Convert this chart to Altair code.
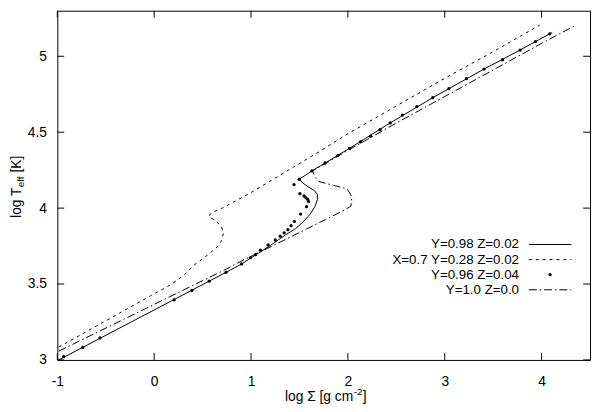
import altair as alt
import pandas as pd

# ---- data ----
x_ticks = [-1, 0, 1, 2, 3, 4]
y_ticks = [3, 3.5, 4, 4.5, 5]

legend_labels = ["Y=0.98 Z=0.02", "X=0.7 Y=0.28 Z=0.02", "Y=0.96 Z=0.04", "Y=1.0 Z=0.0"]

# Y=0.98 Z=0.02 (solid)
solid_x = [-0.985, 0.742, 0.903, 1.0, 1.19, 1.36, 1.46, 1.54, 1.61, 1.66, 1.685, 1.685,
           1.655, 1.59, 1.535, 1.498, 1.628, 1.765, 2.018, 2.437, 2.876, 3.406, 3.778, 4.084, 4.11]
solid_y = [3.0, 3.577, 3.632, 3.672, 3.75, 3.825, 3.865, 3.91, 3.96, 4.01, 4.055, 4.09,
           4.115, 4.14, 4.165, 4.19, 4.245, 4.297, 4.394, 4.561, 4.727, 4.916, 5.041, 5.148, 5.157]

# X=0.7 Y=0.28 Z=0.02 (dashed)
dashed_x = [-0.985, -0.237, -0.033, 0.171, 0.308, 0.41, 0.546, 0.648, 0.70, 0.716, 0.69, 0.62,
            0.563, 0.59, 0.72, 1.02, 1.36, 1.70, 2.0, 2.485, 3.0, 3.5, 3.98]
dashed_y = [3.085, 3.351, 3.424, 3.495, 3.559, 3.624, 3.688, 3.742, 3.79, 3.84, 3.885, 3.922,
            3.945, 3.968, 4.005, 4.11, 4.24, 4.37, 4.49, 4.667, 4.855, 5.03, 5.205]

# Y=0.96 Z=0.04 (dots)
dots_x = [-0.934, -0.737, -0.559, 0.206, 0.390, 0.568, 0.742, 0.903, 0.995, 1.046, 1.097, 1.176,
          1.250, 1.301, 1.342, 1.380, 1.413, 1.447, 1.512, 1.573, 1.594, 1.584, 1.566, 1.546,
          1.505, 1.444, 1.498, 1.628, 1.765, 1.896, 2.018, 2.131, 2.233, 2.332, 2.437, 2.563,
          2.712, 2.876, 3.043, 3.223, 3.406, 3.597, 3.778, 3.937, 4.084]
dots_y = [3.022, 3.082, 3.145, 3.396, 3.458, 3.519, 3.577, 3.632, 3.674, 3.693, 3.723, 3.757,
          3.790, 3.815, 3.837, 3.858, 3.884, 3.912, 3.961, 4.009, 4.043, 4.058, 4.069, 4.080,
          4.095, 4.155, 4.190, 4.245, 4.297, 4.346, 4.394, 4.437, 4.474, 4.516, 4.561, 4.613,
          4.669, 4.727, 4.787, 4.852, 4.916, 4.977, 5.041, 5.097, 5.148]

# Y=1.0 Z=0.0 (dash-dot)
dashdot_x = [-0.985, 0.24, 0.75, 0.903, 1.09, 1.43, 1.77, 1.94, 2.03, 2.04, 2.03, 1.99, 1.85,
             1.70, 1.665, 1.635, 2.0, 2.5, 3.0, 3.5, 4.0, 4.34]
dashdot_y = [3.058, 3.441, 3.60, 3.652, 3.71, 3.817, 3.925, 3.979, 4.012, 4.05, 4.09, 4.127, 4.15,
             4.175, 4.20, 4.245, 4.38, 4.56, 4.735, 4.91, 5.085, 5.20]


def frame(xs, ys):
    return pd.DataFrame({"x": xs, "y": ys, "i": list(range(len(xs)))})


W, H = 540, 354
FONT = "Liberation Sans"
FS = 14

xscale = alt.Scale(domain=[-1, 4.5], nice=False, zero=False)
yscale = alt.Scale(domain=[3, 5.3], nice=False, zero=False)

xaxis = alt.Axis(values=x_ticks, title=None, ticks=False, domain=False, grid=False,
                 labelFont=FONT, labelFontSize=FS, labelColor="black", labelPadding=15,
                 labelExpr="toString(datum.value)", labelFlush=False)
yaxis = alt.Axis(values=y_ticks, title=None, ticks=False, domain=False, grid=False,
                 labelFont=FONT, labelFontSize=FS, labelColor="black", labelPadding=11,
                 labelExpr="toString(datum.value)", labelFlush=False)

X = alt.X("x:Q", scale=xscale, axis=xaxis)
Y = alt.Y("y:Q", scale=yscale, axis=yaxis)

base_line = dict(color="black", strokeWidth=1, clip=True)

solid = alt.Chart(frame(solid_x, solid_y)).mark_line(**base_line).encode(x=X, y=Y, order="i:Q")
dashed = alt.Chart(frame(dashed_x, dashed_y)).mark_line(strokeDash=[3, 4], **base_line).encode(
    x=X, y=Y, order="i:Q")
dashdot = alt.Chart(frame(dashdot_x, dashdot_y)).mark_line(strokeDash=[8, 3, 1.5, 3], **base_line).encode(
    x=X, y=Y, order="i:Q")
dots = alt.Chart(frame(dots_x, dots_y)).mark_circle(color="black", size=11, opacity=1).encode(x=X, y=Y)

# inward ticks on all four sides
TL = 7
xt = pd.DataFrame({"x": x_ticks})
yt = pd.DataFrame({"y": y_ticks})
tick_b = alt.Chart(xt).mark_rule(color="black").encode(x=X, y=alt.value(H), y2=alt.value(H - TL))
tick_t = alt.Chart(xt).mark_rule(color="black").encode(x=X, y=alt.value(0), y2=alt.value(TL))
tick_l = alt.Chart(yt).mark_rule(color="black").encode(y=Y, x=alt.value(0), x2=alt.value(TL))
tick_r = alt.Chart(yt).mark_rule(color="black").encode(y=Y, x=alt.value(W), x2=alt.value(W - TL))


def text_layer(s, x, y, size=FS, align="left", baseline="alphabetic", angle=0):
    return alt.Chart(pd.DataFrame({"t": [s]})).mark_text(
        font=FONT, fontSize=size, align=align, baseline=baseline, angle=angle, color="black"
    ).encode(x=alt.value(x), y=alt.value(y), text="t:N")


# axis titles (with sub/superscripts as separate text pieces)
titles = [
    text_layer("log Σ [g cm", 300, 396, align="right"),
    text_layer("-2", 300.5, 390, size=10),
    text_layer("]", 309.5, 396),
    text_layer("log T", -37, 210, angle=270),
    text_layer("eff", -34, 179, size=10, angle=270),
    text_layer("[K]", -37, 164, angle=270),
]

# legend
ly = [237, 252.3, 267.6, 282.9]
lx_text, lx0, lx1 = 468, 478, 521
legend = []
for lab, yy in zip(legend_labels, ly):
    legend.append(text_layer(lab, lx_text, yy, size=13.5, align="right", baseline="middle"))
dummy = pd.DataFrame({"a": [0]})
legend.append(alt.Chart(dummy).mark_rule(color="black", strokeWidth=1).encode(
    x=alt.value(lx0), x2=alt.value(lx1), y=alt.value(ly[0])))
legend.append(alt.Chart(dummy).mark_rule(color="black", strokeWidth=1, strokeDash=[3, 4]).encode(
    x=alt.value(lx0), x2=alt.value(lx1), y=alt.value(ly[1])))
legend.append(alt.Chart(dummy).mark_point(color="black", filled=True, size=11, opacity=1, shape="circle").encode(
    x=alt.value((lx0 + lx1) / 2), y=alt.value(ly[2])))
legend.append(alt.Chart(dummy).mark_rule(color="black", strokeWidth=1, strokeDash=[8, 3, 1.5, 3]).encode(
    x=alt.value(lx0), x2=alt.value(lx1), y=alt.value(ly[3])))

chart = alt.layer(
    dashed, dashdot, solid, dots, tick_b, tick_t, tick_l, tick_r, *titles, *legend
).properties(
    width=W, height=H,
    autosize=alt.AutoSizeParams(type="none"),
    padding={"left": 50, "top": 0, "right": 2, "bottom": 48},
    background="white",
).configure_view(stroke="black", strokeWidth=1)

chart.save("out.html", embed_options={"renderer": "svg", "actions": False})
